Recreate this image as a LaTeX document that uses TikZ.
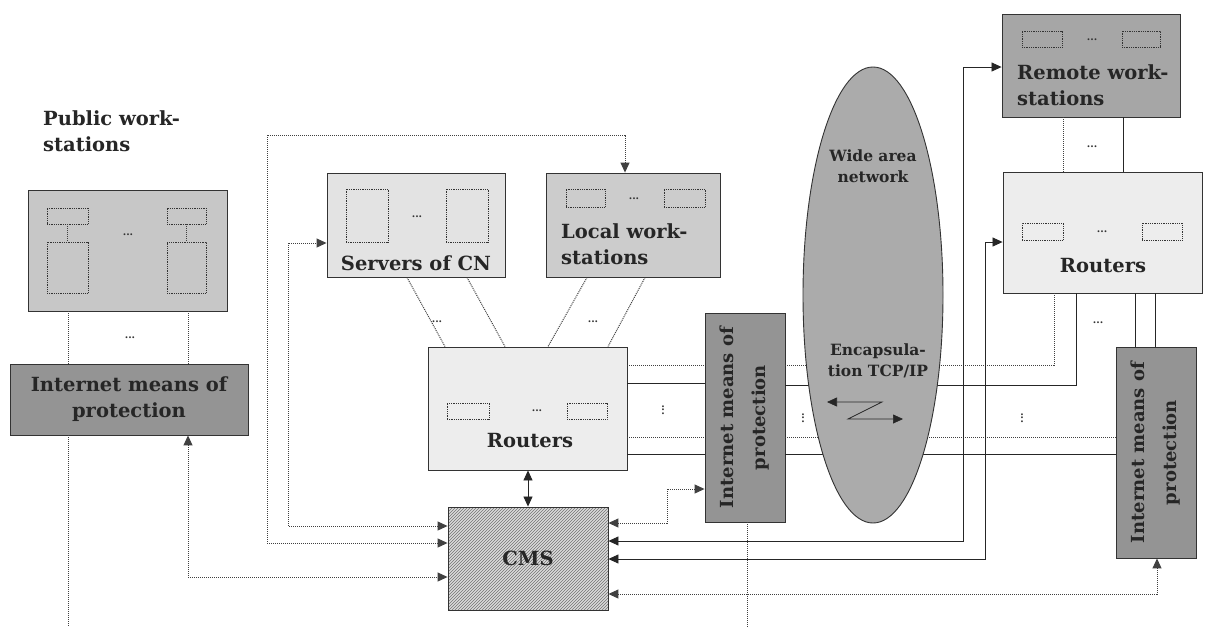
\documentclass[tikz,border=0pt]{standalone}
\usepackage{fontspec}
\setmainfont{DejaVu Serif}
\usetikzlibrary{arrows.meta,patterns,shapes.geometric}
\begin{document}
\begin{tikzpicture}[x=1pt,y=-1pt,
  >={Triangle[length=10pt,width=9pt]},
  box/.style={draw=black!80, line width=0.9pt, inner sep=0pt},
  irect/.style={draw=black!80, line width=0.8pt, densely dotted, inner sep=0pt},
  dl/.style={draw=black!75, line width=1pt, densely dotted},
  sl/.style={draw=black!85, line width=0.8pt},
  lbl/.style={inner sep=0pt, font=\bfseries\fontsize{19.5}{26}\selectfont, text=black!85},
  small/.style={inner sep=0pt, font=\bfseries\fontsize{15.5}{21}\selectfont, text=black!85},
  rot/.style={inner sep=0pt, rotate=90, align=center, font=\bfseries\fontsize{18}{32}\selectfont, text=black!85},
  dts/.style={inner sep=0pt, font=\bfseries\fontsize{10}{10}\selectfont, text=black!80},
  vdts/.style={inner sep=0pt, rotate=90, font=\bfseries\fontsize{10}{10}\selectfont, text=black!80}
]
\useasboundingbox (0,0) rectangle (1207,627);
\fill[white] (0,0) rectangle (1207,627);

% ---------- boxes ----------
\node[box, fill=black!22, minimum width=199pt, minimum height=121pt] (pubws) at (127.5,250.5) {};
\node[box, fill=black!42, minimum width=238pt, minimum height=71pt] (pubprot) at (129,399.5) {};
\node[box, fill=black!11, minimum width=178pt, minimum height=104pt] (srv) at (416,225) {};
\node[box, fill=black!20, minimum width=174pt, minimum height=104pt] (lws) at (633,225) {};
\node[box, fill=black!7, minimum width=199pt, minimum height=123pt] (rtr) at (527.5,408.5) {};
\node[box, preaction={fill=black!14}, pattern=north east lines, pattern color=black!55, minimum width=160pt, minimum height=103pt] (cms) at (528,558.5) {};
\node[box, fill=black!42, minimum width=80pt, minimum height=209pt] (midprot) at (745,417.5) {};
\node[box, fill=black!35, minimum width=178pt, minimum height=103pt] (rws) at (1091,65.5) {};
\node[box, fill=black!7, minimum width=199pt, minimum height=121pt] (rtr2) at (1102.5,232.5) {};
\node[box, fill=black!42, minimum width=80pt, minimum height=211pt] (rprot) at (1156,452.5) {};

% ---------- inner elements ----------
% public workstations
\node[irect, minimum width=41pt, minimum height=16pt] (pwa) at (67.5,216) {};
\node[irect, minimum width=41pt, minimum height=51pt] (pwb) at (67.5,267.5) {};
\node[irect, minimum width=39pt, minimum height=16pt] (pwc) at (186.5,216) {};
\node[irect, minimum width=39pt, minimum height=51pt] (pwd) at (186.5,267.5) {};
\draw[dl, line width=0.6pt] (pwa.south) -- (pwb.north);
\draw[dl, line width=0.6pt] (pwc.south) -- (pwd.north);
\node[dts] (pwdots) at (128,235) {...};
% servers
\node[irect, minimum width=42pt, minimum height=53pt] (sva) at (367,215.5) {};
\node[irect, minimum width=42pt, minimum height=53pt] (svb) at (467,215.5) {};
\node[dts] (svdots) at (417,217) {...};
% local workstations
\node[irect, minimum width=39pt, minimum height=18pt] (lwa) at (585.5,198) {};
\node[irect, minimum width=41pt, minimum height=18pt] (lwb) at (684.5,198) {};
\node[dts] (lwdots) at (634,199) {...};
% routers
\node[irect, minimum width=42pt, minimum height=16pt] (rta) at (468,411) {};
\node[irect, minimum width=40pt, minimum height=16pt] (rtb) at (587,411) {};
\node[dts] (rtdots) at (537,411) {...};
% remote workstations
\node[irect, minimum width=40pt, minimum height=16pt] (rwa) at (1042,39) {};
\node[irect, minimum width=38pt, minimum height=16pt] (rwb) at (1141,39) {};
\node[dts] (rwdots) at (1092,40) {...};
% routers 2
\node[irect, minimum width=41pt, minimum height=17pt] (r2a) at (1042.5,231.5) {};
\node[irect, minimum width=40pt, minimum height=17pt] (r2b) at (1162,231.5) {};
\node[dts] (r2dots) at (1102,232) {...};

% ---------- labels ----------
\node[lbl, anchor=west, align=left] (pubwsL) at (43,131) {Public work-\\stations};
\node[lbl, align=center] (pubprotL) at (pubprot.center) {Internet means of\\protection};
\node[lbl] (srvL) at (416,263) {Servers of CN};
\node[lbl, anchor=west, align=left] (lwsL) at (561,244) {Local work-\\stations};
\node[lbl] (rtrL) at (530,441) {Routers};
\node[lbl] (cmsL) at (cms.center) {CMS};
\node[lbl, anchor=west, align=left] (rwsL) at (1017,85) {Remote work-\\stations};
\node[lbl] (rtr2L) at (1103,266) {Routers};
\node[rot] (midprotL) at (midprot.center) {Internet means of\\protection};
\node[rot] (rprotL) at (rprot.center) {Internet means of\\protection};

% ---------- connectors ----------
% public workstations <-> protection
\draw[dl] (pubws.south -| 68,0) -- (pubprot.north -| 68,0);
\draw[dl] (pubws.south -| 188,0) -- (pubprot.north -| 188,0);
\node[dts] (pubdots) at (130,338) {...};
\draw[dl] (pubprot.south -| 68,0) -- (68,627);
\draw[dl, <->] (pubprot.south -| 188,0) |- (cms.west |- 0,577);

% loops from CMS left
\draw[dl, <->] (cms.west |- 0,543) -| (267,135) -| (lws.north -| 625,0);
\draw[dl, <->] (cms.west |- 0,526) -| (288,243) -- (srv.west |- 0,243);

% servers / local ws -> routers
\draw[dl] (srv.south -| 407,0) -- (rtr.north -| 445,0);
\draw[dl] (srv.south -| 467,0) -- (rtr.north -| 505,0);
\draw[dl] (lws.south -| 587,0) -- (rtr.north -| 548,0);
\draw[dl] (lws.south -| 645,0) -- (rtr.north -| 608,0);
\node[dts] (sdots) at (437,322) {...};
\node[dts] (ldots) at (593,322) {...};

% routers <-> CMS
\draw[sl, <->] (rtr.south -| cms.north) -- (cms.north);

% routers -> middle protection
\draw[dl] (rtr.east |- 0,365) -- (midprot.west |- 0,365);
\draw[sl] (rtr.east |- 0,383) -- (midprot.west |- 0,383);
\draw[dl] (rtr.east |- 0,437) -- (midprot.west |- 0,437);
\draw[sl] (rtr.east |- 0,454) -- (midprot.west |- 0,454);
\node[vdts] (mvd1) at (663,410) {...};

% middle protection -> far side
\draw[dl] (midprot.east |- 0,365) -| (rtr2.south -| 1054,0);
\draw[sl] (midprot.east |- 0,385) -| (rtr2.south -| 1076,0);
\draw[dl] (midprot.east |- 0,437) -- (rprot.west |- 0,437);
\draw[sl] (midprot.east |- 0,454) -- (rprot.west |- 0,454);
\node[vdts] (mvd2) at (803,418) {...};
\node[vdts] (mvd3) at (1022,418) {...};

% CMS right side
\draw[dl, <->] (cms.east |- 0,523) -| (667,489) -- (midprot.west |- 0,489);
\draw[sl, <->] (cms.east |- 0,541) -| (963,67) -- (rws.west |- 0,67);
\draw[sl, <->] (cms.east |- 0,559) -| (985,242) -- (rtr2.west |- 0,242);
\draw[dl, <->] (cms.east |- 0,594) -| (rprot.south -| 1157,0);
\draw[dl] (midprot.south -| 747,0) -- (747,627);

% right column
\draw[dl] (rws.south -| 1063,0) -- (rtr2.north -| 1063,0);
\draw[sl] (rws.south -| 1123,0) -- (rtr2.north -| 1123,0);
\node[dts] (rwsdots) at (1092,147) {...};
\draw[sl] (rtr2.south -| 1135,0) -- (rprot.north -| 1135,0);
\draw[sl] (rtr2.south -| 1155,0) -- (rprot.north -| 1155,0);
\node[dts] (r2bdots) at (1098,323) {...};

% ---------- wide area network ----------
\node[ellipse, draw=black!80, line width=0.9pt, fill=black!33, minimum width=140pt, minimum height=456pt, inner sep=0pt] (wan) at (873,295) {};
\node[small, align=center] (wanL) at (873,166) {Wide area\\network};
\node[small, align=center] (encL) at (878,361) {Encapsula-\\tion TCP/IP};
\coordinate (za) at (827,402);
\coordinate (zb) at (882,402);
\coordinate (zc) at (848,419);
\coordinate (zd) at (903,419);
\draw[sl, line width=0.7pt, <->] (za) -- (zb) -- (zc) -- (zd);
\end{tikzpicture}
\end{document}
